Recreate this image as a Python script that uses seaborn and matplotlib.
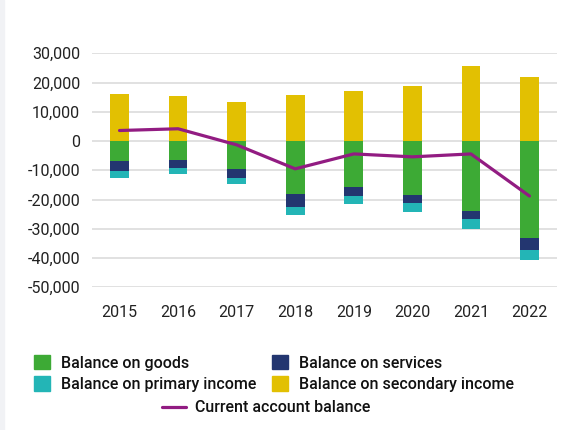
import numpy as np
import matplotlib
matplotlib.use("Agg")
import matplotlib.pyplot as plt
import seaborn as sns
from matplotlib.patches import Patch, Rectangle
from matplotlib.lines import Line2D
from matplotlib.ticker import FuncFormatter, MultipleLocator

# Balance of payments components (millions)
years = ["2015", "2016", "2017", "2018", "2019", "2020", "2021", "2022"]
goods = [-6800, -6500, -9500, -18100, -15700, -18400, -23900, -33100]
services = [-3400, -2700, -3100, -4400, -3100, -2800, -2700, -4200]
primary_income = [-2300, -2000, -2100, -2800, -2700, -3000, -3500, -3400]
secondary_income = [16100, 15400, 13400, 15800, 17100, 18800, 25700, 21900]
current_account = [3600, 4200, -1300, -9500, -4400, -5400, -4400, -18800]

c_goods = "#3daa35"
c_serv = "#233670"
c_prim = "#23b5b6"
c_sec = "#e2c002"
c_line = "#921c82"

sns.set_theme(style="white")
plt.rcParams["font.family"] = ["Roboto", "DejaVu Sans"]

fig = plt.figure(figsize=(5.73, 4.30), dpi=100)
fig.patches.append(Rectangle((0, 0), 4 / 573, 1, transform=fig.transFigure,
                             color="#f1f2f5", zorder=0))
ax = fig.add_axes([92 / 573, (430 - 287.3) / 430, 465 / 573, 234 / 430])

g = np.array(goods)
s = np.array(services)
bw = 0.32
sns.barplot(x=years, y=secondary_income, color=c_sec, width=bw, ax=ax,
            saturation=1, linewidth=0)
sns.barplot(x=years, y=goods, color=c_goods, width=bw, ax=ax,
            saturation=1, linewidth=0)
sns.barplot(x=years, y=services, bottom=g, color=c_serv, width=bw, ax=ax,
            saturation=1, linewidth=0)
sns.barplot(x=years, y=primary_income, bottom=g + s, color=c_prim, width=bw,
            ax=ax, saturation=1, linewidth=0)
sns.lineplot(x=np.arange(len(years)), y=current_account, color=c_line,
             linewidth=2.3, ax=ax, zorder=5)

ax.set_xlim(-0.47, len(years) - 0.53)
ax.set_ylim(-50000, 30000)
ax.yaxis.set_major_locator(MultipleLocator(10000))
ax.yaxis.set_major_formatter(FuncFormatter(lambda v, p: f"{int(v):,}"))
ax.grid(axis="y", color="#dedede", linewidth=1.3)
ax.set_axisbelow(True)
for sp in ax.spines.values():
    sp.set_visible(False)
ax.set_xlabel("")
ax.set_ylabel("")
ax.tick_params(axis="y", length=0, pad=8.5, labelsize=11.5, labelcolor="#222222")
ax.tick_params(axis="x", length=0, pad=13, labelsize=11.5, labelcolor="#222222")

handles = [
    Patch(color=c_goods, label="Balance on goods"),
    Patch(color=c_prim, label="Balance on primary income"),
    Patch(color=c_serv, label="Balance on services"),
    Patch(color=c_sec, label="Balance on secondary income"),
]
leg1 = fig.legend(handles=handles, ncol=2, loc="center",
                  bbox_to_anchor=(274 / 573, (430 - 373.5) / 430),
                  frameon=False, handlelength=1.0, handleheight=1.0,
                  handletextpad=0.65, columnspacing=1.0, labelspacing=0.35,
                  prop={"size": 11.5, "weight": "medium"}, labelcolor="#111111")
leg2 = fig.legend(handles=[Line2D([], [], color=c_line, lw=2.3,
                                  label="Current account balance")],
                  loc="center", bbox_to_anchor=(266 / 573, (430 - 408) / 430),
                  frameon=False, handlelength=1.5, handletextpad=0.6,
                  prop={"size": 11.5, "weight": "medium"}, labelcolor="#111111")

fig.savefig("out.png", dpi=100)
